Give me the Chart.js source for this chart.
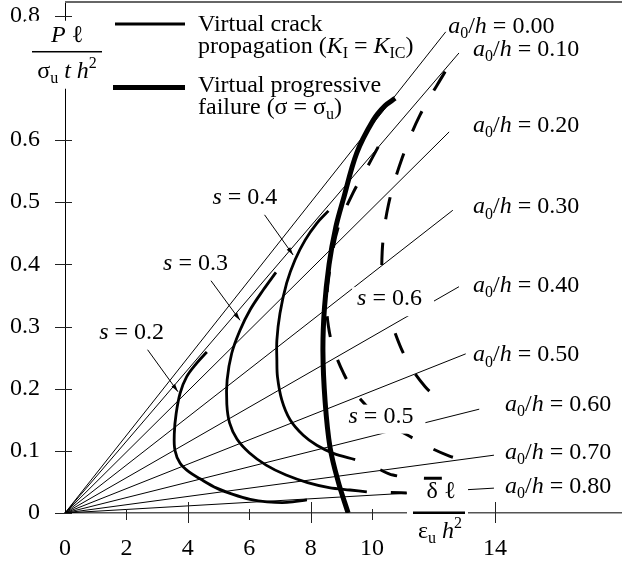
<!DOCTYPE html>
<html>
<head>
<meta charset="utf-8">
<script src="https://cdn.jsdelivr.net/npm/chart.js@4.4.1/dist/chart.umd.min.js"></script>
<style>
  html, body { margin: 0; padding: 0; background: #fff; }
  canvas { display: block; }
</style>
</head>
<body>
<canvas id="chart" width="622" height="566"></canvas>
<script>
// Load-deflection curves for notched beams

const FONT = '"Liberation Serif", "Times New Roman", serif';
const FS = 24;

// ----- axes -----
const xTicks = [0, 2, 4, 6, 8, 10, 14];
const xLongTicks = [4, 8, 14];
const yTicks = [0, 0.1, 0.2, 0.3, 0.4, 0.5, 0.6, 0.8];

// ----- straight lines from the origin, one per a0/h -----
const ratioLabels = ['0.00', '0.10', '0.20', '0.30', '0.40', '0.50', '0.60', '0.70', '0.80'];
const ratioEndX = [12.40, 12.83, 12.51, 12.63, 12.83, 13.05, 13.49, 13.97, 13.97];
const ratioEndY = [0.774, 0.740, 0.613, 0.487, 0.364, 0.256, 0.167, 0.093, 0.040];
const ratioLabelX = [12.48, 13.29, 13.29, 13.29, 13.29, 13.29, 14.33, 14.33, 14.33];
const ratioLabelY = [0.783, 0.745, 0.623, 0.492, 0.365, 0.254, 0.175, 0.0965, 0.042];

// ----- virtual crack propagation (K_I = K_IC) -----
const s02X = [4.62, 4.29, 3.96, 3.75, 3.62, 3.56, 3.58, 3.75, 4.04, 4.40, 4.94, 5.47, 6.03, 6.58, 7.23, 7.88];
const s02Y = [0.259, 0.241, 0.219, 0.193, 0.160, 0.128, 0.101, 0.080, 0.066, 0.055, 0.040, 0.030, 0.022, 0.018, 0.017, 0.021];

const s03X = [6.87, 6.46, 6.03, 5.70, 5.43, 5.28, 5.27, 5.36, 5.60, 6.00, 6.55, 7.20, 7.90, 8.60, 9.28, 9.83];
const s03Y = [0.387, 0.359, 0.327, 0.294, 0.257, 0.214, 0.175, 0.145, 0.119, 0.097, 0.077, 0.061, 0.049, 0.041, 0.037, 0.034];
const s03DashX = [9.83, 10.6, 11.3, 12.0];
const s03DashY = [0.034, 0.033, 0.032, 0.031];

const s04X = [8.58, 8.20, 7.82, 7.49, 7.22, 7.00, 6.90, 6.90, 6.92, 7.06, 7.33, 7.76, 8.20, 8.74, 9.45];
const s04Y = [0.486, 0.466, 0.439, 0.407, 0.370, 0.321, 0.278, 0.246, 0.219, 0.182, 0.150, 0.125, 0.109, 0.096, 0.086];
const s04DashX = [9.45, 10.16, 10.68, 11.66, 12.31];
const s04DashY = [0.086, 0.072, 0.061, 0.056, 0.056];

const s05X = [10.20, 9.75, 9.38, 8.90, 8.65, 8.52, 8.58, 8.74, 9.07, 9.45, 10.30, 11.24, 11.94, 12.50, 12.95];
const s05Y = [0.589, 0.548, 0.515, 0.460, 0.400, 0.340, 0.300, 0.265, 0.225, 0.193, 0.150, 0.123, 0.104, 0.092, 0.085];

const s06X = [12.38, 11.56, 10.98, 10.53, 10.33, 10.38, 10.64, 11.13, 11.73, 12.30];
const s06Y = [0.710, 0.640, 0.571, 0.495, 0.420, 0.350, 0.305, 0.246, 0.203, 0.178];

// ----- virtual progressive failure (sigma = sigma_u) -----
const failX = [9.22, 8.90, 8.63, 8.47, 8.40, 8.45, 8.60, 8.82, 9.06, 9.50, 10.04, 10.42, 10.75];
const failY = [0, 0.050, 0.106, 0.180, 0.260, 0.330, 0.400, 0.460, 0.504, 0.579, 0.632, 0.655, 0.667];

// ----- s labels and their leader lines -----
const sLabels = ['0.2', '0.3', '0.4', '0.5', '0.6'];
const sLabelX = [2.17, 4.25, 5.86, 10.29, 10.57];
const sLabelY = [0.290, 0.401, 0.507, 0.155, 0.344];
const leaderFromX = [2.67, 4.66, 6.45];
const leaderFromY = [0.264, 0.380, 0.483];
const leaderToX = [3.68, 5.70, 7.43];
const leaderToY = [0.195, 0.310, 0.415];

// axis titles sit on the axes
const yTitleAt = [0.065, 0.742];
const xTitleAt = [12.18, 0];

const pts = (xs, ys) => xs.map((x, i) => ({ x, y: ys[i] }));

const datasets = [];
ratioLabels.forEach((r, i) => {
  datasets.push({ label: 'a0/h=' + r, data: [{ x: 0, y: 0 }, { x: ratioEndX[i], y: ratioEndY[i] }],
    borderColor: '#000', borderWidth: 1, tension: 0 });
});
const crack = { borderColor: '#000', borderWidth: 2.8, tension: 0.35 };
const dashed = { borderColor: '#000', borderWidth: 3, tension: 0.35, borderCapStyle: 'butt' };
datasets.push({ label: 's=0.2', data: pts(s02X, s02Y), ...crack });
datasets.push({ label: 's=0.3', data: pts(s03X, s03Y), ...crack });
datasets.push({ label: 's=0.3 beyond', data: pts(s03DashX, s03DashY), ...dashed, borderDash: [16, 24], borderDashOffset: 16 });
datasets.push({ label: 's=0.4', data: pts(s04X, s04Y), ...crack });
datasets.push({ label: 's=0.4 beyond', data: pts(s04DashX, s04DashY), ...dashed, borderDash: [18, 27], borderDashOffset: 18 });
datasets.push({ label: 's=0.5', data: pts(s05X, s05Y), ...dashed, borderDash: [21, 24] });
datasets.push({ label: 's=0.6', data: pts(s06X, s06Y), ...dashed, borderDash: [22, 24] });
datasets.push({ label: 'failure', data: pts(failX, failY), borderColor: '#000', borderWidth: 5, tension: 0.35 });
const leaderStart = datasets.length;
leaderFromX.forEach((x, i) => {
  datasets.push({ label: 'leader ' + sLabels[i],
    data: [{ x, y: leaderFromY[i] }, { x: leaderToX[i], y: leaderToY[i] }],
    borderColor: '#000', borderWidth: 1, tension: 0 });
});

// ----- text with italics, subscripts and superscripts -----
function segFont(st, size) {
  const small = st === 'sub' || st === 'sup';
  return (st === 'i' ? 'italic ' : '') + (small ? Math.round(size * 0.68) : size) + 'px ' + FONT;
}
function richWidth(ctx, segs, size) {
  let w = 0;
  segs.forEach(([t, st = '']) => { ctx.font = segFont(st, size); w += ctx.measureText(t).width; });
  return w;
}
function drawRich(ctx, segs, x, y, size, align) {
  const w = richWidth(ctx, segs, size);
  let cx = align === 'center' ? x - w / 2 : align === 'right' ? x - w : x;
  ctx.textAlign = 'left';
  ctx.textBaseline = 'middle';
  ctx.fillStyle = '#000';
  segs.forEach(([t, st = '']) => {
    ctx.font = segFont(st, size);
    let dy = 0;
    if (st === 'sub') dy = size * 0.3;
    if (st === 'sup') dy = -size * 0.33;
    ctx.fillText(t, cx, y + dy);
    cx += ctx.measureText(t).width;
  });
  return w;
}
function whiteBox(ctx, x, y, w, h) {
  ctx.fillStyle = '#fff';
  ctx.fillRect(x, y, w, h);
}

const decor = {
  id: 'decor',
  afterDatasetsDraw(chart) {
    const { ctx, chartArea: a, scales: { x, y } } = chart;
    ctx.save();

    // frame line along the top
    ctx.strokeStyle = '#666';
    ctx.lineWidth = 2;
    ctx.beginPath(); ctx.moveTo(a.left, a.top); ctx.lineTo(a.right, a.top); ctx.stroke();

    // tick marks crossing the axes
    ctx.strokeStyle = '#222';
    ctx.lineWidth = 1;
    yTicks.forEach(v => {
      const py = Math.round(y.getPixelForValue(v)) + 0.5;
      ctx.beginPath(); ctx.moveTo(a.left - 10, py); ctx.lineTo(a.left + 7, py); ctx.stroke();
    });
    xTicks.forEach(v => {
      if (v === 0) return;
      const px = Math.round(x.getPixelForValue(v)) + 0.5;
      const long = xLongTicks.includes(v);
      ctx.beginPath();
      ctx.moveTo(px, a.bottom - (long ? 11 : 4));
      ctx.lineTo(px, a.bottom + (long ? 10 : 7));
      ctx.stroke();
    });

    // small arrowheads on the leader lines
    ctx.fillStyle = '#000';
    for (let i = 0; i < leaderFromX.length; i++) {
      const d = chart.getDatasetMeta(leaderStart + i).data;
      const p0 = d[0], p1 = d[1];
      const ang = Math.atan2(p1.y - p0.y, p1.x - p0.x);
      ctx.save();
      ctx.translate(p1.x, p1.y); ctx.rotate(ang);
      ctx.beginPath(); ctx.moveTo(0, 0); ctx.lineTo(-8, -2.2); ctx.lineTo(-8, 2.2); ctx.closePath(); ctx.fill();
      ctx.restore();
    }

    // s labels on white boxes
    sLabels.forEach((s, i) => {
      const cx = x.getPixelForValue(sLabelX[i]);
      const cy = y.getPixelForValue(sLabelY[i]);
      const segs = [['s', 'i'], [' = ' + s]];
      const w = richWidth(ctx, segs, FS);
      whiteBox(ctx, cx - w / 2 - 5, cy - 12, w + 17, 29);
      drawRich(ctx, segs, cx, cy, FS, 'center');
    });

    // a0/h labels at the line ends
    ratioLabels.forEach((r, i) => {
      const lx = x.getPixelForValue(ratioLabelX[i]);
      const ly = y.getPixelForValue(ratioLabelY[i]);
      drawRich(ctx, [['a', 'i'], ['0', 'sub'], ['/'], ['h', 'i'], [' = ' + r]], lx, ly, FS, 'left');
    });

    // y title as a fraction on the y axis
    {
      const cx = x.getPixelForValue(yTitleAt[0]);
      const cy = y.getPixelForValue(yTitleAt[1]);
      whiteBox(ctx, cx - 42, cy - 31, 82, 68);
      drawRich(ctx, [['P', 'i'], [' \u2113']], cx, cy - 16, FS, 'center');
      ctx.fillStyle = '#000';
      ctx.fillRect(cx - 35, cy - 0.75, 70, 1.5);
      drawRich(ctx, [['\u03c3'], ['u', 'sub'], [' '], ['t', 'i'], [' '], ['h', 'i'], ['2', 'sup']], cx, cy + 20, FS, 'center');
    }

    // x title as a fraction on the x axis
    {
      const cx = x.getPixelForValue(xTitleAt[0]);
      const cy = y.getPixelForValue(xTitleAt[1]);
      whiteBox(ctx, cx - 32, cy - 31, 61, 66);
      drawRich(ctx, [['\u03b4 \u2113']], cx + 2, cy - 21, FS, 'center');
      ctx.fillStyle = '#000';
      ctx.fillRect(cx - 26, cy - 1.5, 52, 2.5);
      drawRich(ctx, [['\u03b5'], ['u', 'sub'], [' '], ['h', 'i'], ['2', 'sup']], cx + 1, cy + 19, FS, 'center');
    }

    // legend
    {
      const lx = a.left, ty = a.top;
      ctx.strokeStyle = '#000';
      ctx.lineWidth = crack.borderWidth;
      ctx.beginPath(); ctx.moveTo(lx + 50, ty + 22); ctx.lineTo(lx + 120, ty + 22); ctx.stroke();
      ctx.lineWidth = 5;
      ctx.beginPath(); ctx.moveTo(lx + 48, ty + 85.5); ctx.lineTo(lx + 120, ty + 85.5); ctx.stroke();
      const tx = lx + 133;
      drawRich(ctx, [['Virtual crack']], tx, ty + 23, FS, 'left');
      drawRich(ctx, [['propagation ('], ['K', 'i'], ['I', 'sub'], [' = '], ['K', 'i'], ['IC', 'sub'], [')']], tx, ty + 45, FS, 'left');
      drawRich(ctx, [['Virtual progressive']], tx, ty + 84, FS, 'left');
      drawRich(ctx, [['failure (\u03c3 = \u03c3'], ['u', 'sub'], [')']], tx, ty + 106, FS, 'left');
    }

    ctx.restore();
  }
};

new Chart(document.getElementById('chart'), {
  type: 'scatter',
  data: { datasets: datasets.map(d => ({ showLine: true, pointRadius: 0, pointHoverRadius: 0, fill: false, ...d })) },
  options: {
    responsive: false,
    animation: false,
    devicePixelRatio: 1,
    events: [],
    layout: { padding: { top: 2, right: 0, bottom: 0, left: 0 } },
    plugins: { legend: { display: false }, tooltip: { enabled: false } },
    scales: {
      x: {
        type: 'linear', min: 0, max: 18.14,
        afterBuildTicks: s => { s.ticks = xTicks.map(v => ({ value: v })); },
        afterFit: s => { s.height = 53; s.paddingLeft = 0; s.paddingRight = 0; },
        grid: { display: false, drawTicks: false, tickLength: 0 },
        border: { display: true, color: '#555', width: 1.5 },
        ticks: { color: '#000', font: { family: FONT, size: FS }, padding: 21, maxRotation: 0, autoSkip: false,
          callback: v => String(v) }
      },
      y: {
        type: 'linear', min: 0, max: 0.822,
        afterBuildTicks: s => { s.ticks = yTicks.map(v => ({ value: v })); },
        afterFit: s => { s.width = 65; s.paddingTop = 0; s.paddingBottom = 0; },
        grid: { display: false, drawTicks: false, tickLength: 0 },
        border: { display: true, color: '#000', width: 1 },
        ticks: { color: '#000', font: { family: FONT, size: FS }, padding: 25, autoSkip: false,
          callback: v => v === 0 ? '0' : v.toFixed(1) }
      }
    }
  },
  plugins: [decor]
});
</script>
</body>
</html>
